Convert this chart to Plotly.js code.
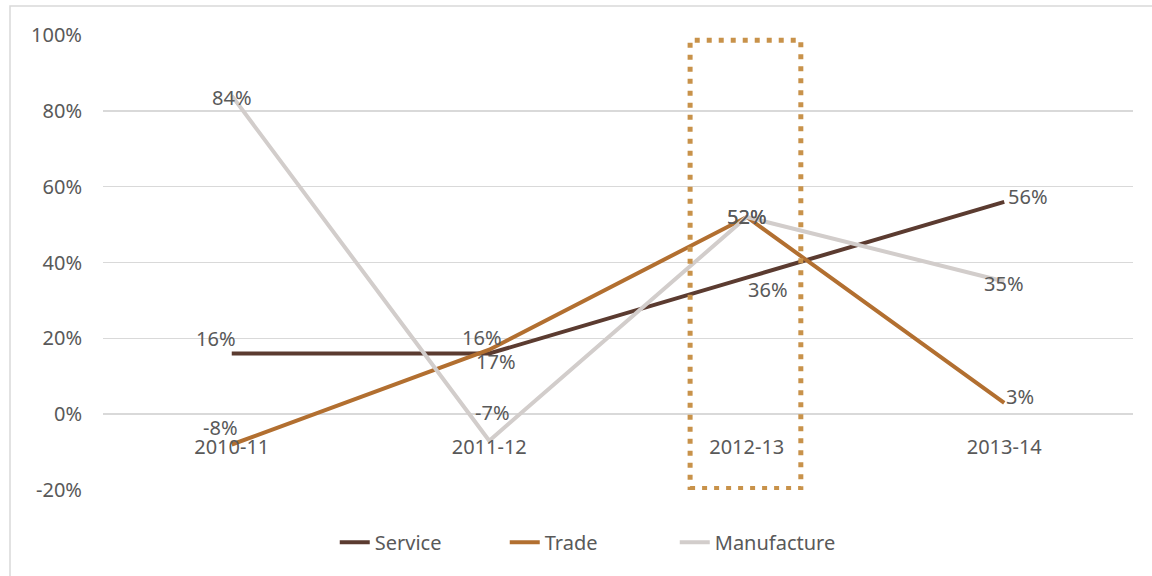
<!DOCTYPE html>
<html>
<head>
<meta charset="utf-8">
<script src="https://cdn.plot.ly/plotly-3.0.1.min.js"></script>
<style>html,body{margin:0;padding:0;background:#fff;}#chart{width:1152px;height:576px;}</style>
</head>
<body>
<div id="chart"></div>
<script>
const categories = ['2010-11', '2011-12', '2012-13', '2013-14'];
const service = [16, 16, 36, 56];
const trade = [-8, 17, 52, 3];
const manufacture = [84, -7, 52, 35];
const yTicks = [-20, 0, 20, 40, 60, 80, 100];
const yTickText = yTicks.map(v => v + '%');

// label offsets in pixels (dx right, dy up) — styling only
const serviceOff = [[-16, 15], [-7, 16], [21, -12], [24, 5]];
const tradeOff = [[-11, 17], [7, -12], [0, 1], [16, 6]];
const manufactureOff = [[0, -2], [3, 28], [0, 1], [0, -2]];

const fontFam = '"Noto Sans", "Open Sans", sans-serif';
const txtColor = '#595959';
const fs = 20;

function mk(name, y, color) {
  return {
    type: 'scatter', mode: 'lines', name: name,
    x: categories, y: y,
    line: {color: color, width: 4},
    hoverinfo: 'skip'
  };
}

function labels(y, off) {
  return y.map((v, i) => ({
    x: categories[i], y: v, xref: 'x', yref: 'y',
    text: v + '%', showarrow: false,
    xshift: off[i][0], yshift: off[i][1],
    font: {family: fontFam, size: fs, color: txtColor}
  }));
}

const data = [
  mk('Service', service, '#5B3B30'),
  mk('Trade', trade, '#B26F30'),
  mk('Manufacture', manufacture, '#D2CDCB')
];

const layout = {
  width: 1152, height: 576,
  margin: {l: 103, r: 19, t: 35, b: 86},
  paper_bgcolor: '#ffffff', plot_bgcolor: '#ffffff',
  font: {family: fontFam, size: fs, color: txtColor},
  showlegend: true,
  legend: {orientation: 'h', x: 0.225, xanchor: 'left', y: -0.115, yanchor: 'middle',
           font: {family: fontFam, size: fs, color: txtColor}, traceorder: 'normal',
           entrywidth: 125},
  xaxis: {
    type: 'category', range: [-0.5, 3.5], showgrid: false, zeroline: false,
    showline: false, ticks: '', anchor: 'free', position: 20 / 120,
    ticklabelstandoff: 19,
    tickfont: {family: fontFam, size: fs, color: txtColor}
  },
  yaxis: {
    range: [-20, 100], tickvals: yTicks, ticktext: yTickText,
    showgrid: true, gridcolor: '#D9D9D9', gridwidth: 1.5,
    zeroline: true, zerolinecolor: '#D9D9D9', zerolinewidth: 1.5,
    showline: false, ticks: '', ticklabelstandoff: 20,
    tickfont: {family: fontFam, size: fs, color: txtColor}
  },
  annotations: [].concat(labels(service, serviceOff), labels(trade, tradeOff), labels(manufacture, manufactureOff)),
  shapes: [
    {type: 'rect', xref: 'paper', yref: 'paper',
     x0: (10 - 103) / 1030, x1: 1.03, y0: -0.25, y1: (490 - 6) / 455,
     line: {color: '#D9D9D9', width: 1.5}, fillcolor: 'rgba(0,0,0,0)', layer: 'below'},
    {type: 'rect', xref: 'x', yref: 'y',
     x0: 1.78, x1: 2.21, y0: -19.6, y1: 98.6,
     line: {color: '#C8924A', width: 5, dash: '5px,7px'}, fillcolor: 'rgba(0,0,0,0)', layer: 'above'}
  ]
};

Plotly.newPlot('chart', data, layout, {staticPlot: true, displayModeBar: false});
</script>
</body>
</html>
